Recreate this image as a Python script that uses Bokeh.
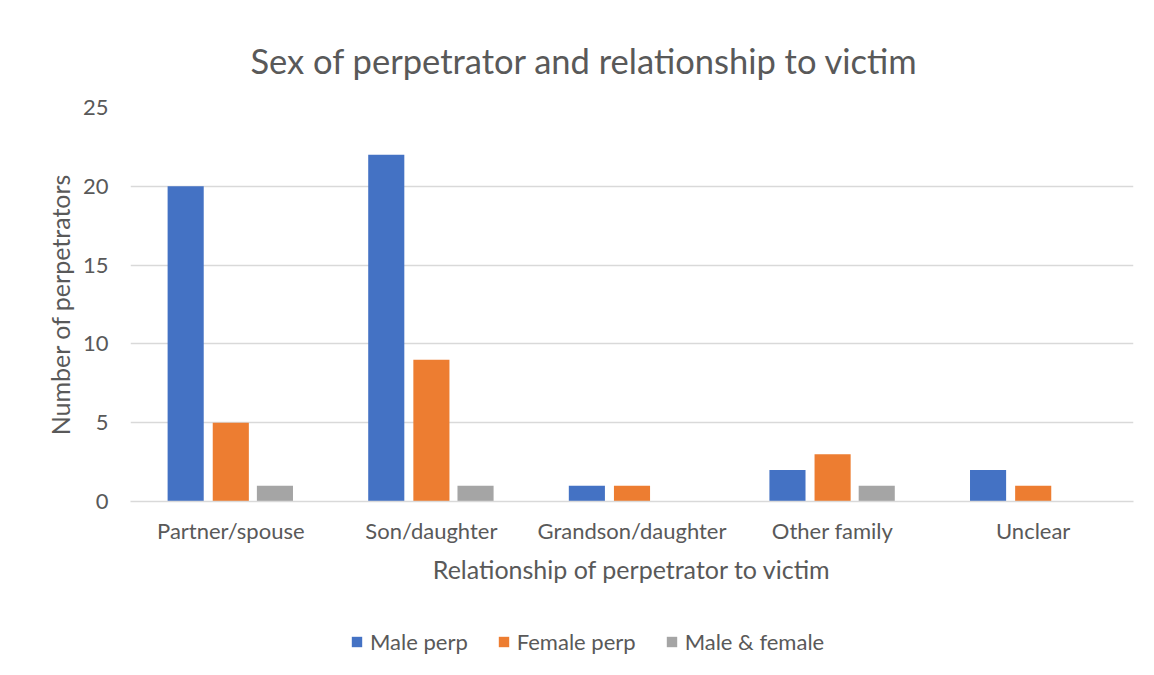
from bokeh.plotting import figure
from bokeh.layouts import column
from bokeh.models import Range1d, FixedTicker, Legend, LegendItem, Title
from bokeh.embed import file_html
from bokeh.resources import INLINE

categories = ["Partner/spouse", "Son/daughter", "Grandson/daughter", "Other family", "Unclear"]
male = [20, 22, 1, 2, 2]
female = [5, 9, 1, 3, 1]
both = [1, 1, 0, 1, 0]
series_names = ["Male perp", "Female perp", "Male & female"]
colors = ["#4472C4", "#ED7D31", "#A5A5A5"]
y_ticks = [0, 5, 10, 15, 20, 25]

FONT = "Lato"
TXT = "#595959"

p = figure(frame_width=1003, frame_height=394, output_backend="svg", toolbar_location=None,
           x_range=Range1d(0, len(categories)), y_range=Range1d(0, 25),
           min_border_left=130, min_border_right=21, min_border_top=107, min_border_bottom=110)
p.outline_line_color = None
p.background_fill_color = "white"

centers = [i + 0.5 for i in range(len(categories))]
offsets = [-0.225, 0.0, 0.22]
for vals, off, col in zip([male, female, both], offsets, colors):
    xs = [c + off for c in centers]
    p.vbar(x=xs, top=vals, width=0.18, bottom=0, fill_color=col, line_color=None)

p.xaxis.ticker = FixedTicker(ticks=centers)
p.xaxis.major_label_overrides = {c: n for c, n in zip(centers, categories)}
p.yaxis.ticker = FixedTicker(ticks=y_ticks)
p.xgrid.grid_line_color = None
p.ygrid.grid_line_color = "#D9D9D9"
p.ygrid.ticker = FixedTicker(ticks=y_ticks)
p.ygrid.grid_line_width = 1.3

for ax in (p.xaxis, p.yaxis):
    ax.major_tick_line_color = None
    ax.minor_tick_line_color = None
    ax.major_label_text_font = FONT
    ax.major_label_text_font_size = "22px"
    ax.major_label_text_color = TXT
    ax.axis_label_text_font = FONT
    ax.axis_label_text_font_size = "25px"
    ax.axis_label_text_color = TXT
    ax.axis_label_text_font_style = "normal"
p.yaxis.axis_line_color = None
p.xaxis.axis_line_color = "#D9D9D9"
p.xaxis.axis_line_width = 1.3
p.xaxis.axis_label = "Relationship of perpetrator to victim"
p.yaxis.axis_label = "Number of perpetrators"
p.xaxis.major_label_standoff = 9
p.xaxis.axis_label_standoff = 7
p.yaxis.major_label_standoff = 16
p.yaxis.axis_label_standoff = 5

t = Title(text="Sex of perpetrator and relationship to victim", align="left", offset=120,
          text_font=FONT, text_font_size="34.5px", text_color=TXT, text_font_style="normal",
          standoff=54)
p.add_layout(t, "above")

# legend strip below the chart
lg = figure(width=1154, height=64, output_backend="svg", toolbar_location=None,
            x_range=Range1d(0, 1154), y_range=Range1d(0, 64),
            x_axis_type=None, y_axis_type=None,
            min_border_left=0, min_border_right=0, min_border_top=0, min_border_bottom=0)
lg.outline_line_color = None
lg.xgrid.grid_line_color = None
lg.ygrid.grid_line_color = None
keys = []
for col in colors:
    # zero-height bar: only serves as the legend key's style source
    keys.append(lg.vbar(x=[0], top=[0], bottom=[0], width=0, fill_color=col, line_color=None))

legend = Legend(items=[LegendItem(label=n, renderers=[r]) for n, r in zip(series_names, keys)],
                orientation="horizontal", location=(220, 20),
                glyph_width=13, glyph_height=13, label_standoff=7, spacing=29,
                label_text_font=FONT, label_text_font_size="22px", label_text_color=TXT,
                border_line_color=None, background_fill_alpha=0, padding=4, margin=0)
lg.add_layout(legend, "center")

layout = column(p, lg, spacing=0)
open("out.html", "w").write(file_html(layout, INLINE))
